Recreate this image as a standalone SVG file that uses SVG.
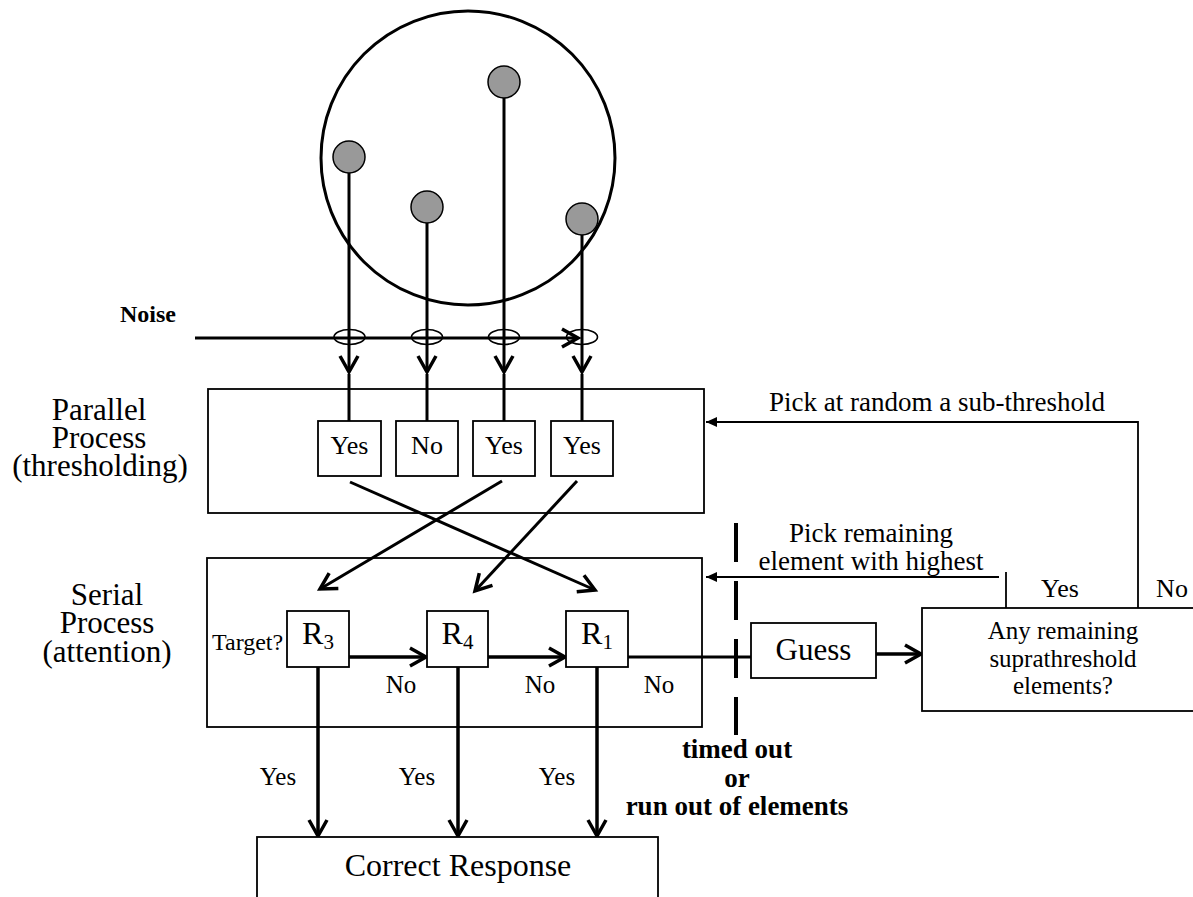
<svg xmlns="http://www.w3.org/2000/svg" width="1193" height="897" viewBox="0 0 1193 897">
<defs>
<style>
.t{font-family:"Liberation Serif","Times New Roman",serif;fill:#000}
.box{fill:#fff;stroke:#000;stroke-width:1.8}
.thin{stroke:#000;stroke-width:1.8;fill:none}
.thick{stroke:#000;stroke-width:3.5;fill:none}
.dot{fill:#999;stroke:#000;stroke-width:1.5}
.ell{fill:none;stroke:#000;stroke-width:1.6}
</style>
<marker id="v" markerUnits="userSpaceOnUse" viewBox="-20 -12 24 24" refX="0" refY="0" markerWidth="24" markerHeight="24" orient="auto">
<path d="M-16 -9 L0 0 L-16 9" fill="none" stroke="#000" stroke-width="3.5" stroke-linejoin="miter"/>
</marker>
<marker id="tri" markerUnits="userSpaceOnUse" viewBox="-12 -6 14 12" refX="0" refY="0" markerWidth="14" markerHeight="12" orient="auto">
<path d="M-11 -5 L0 0 L-11 5 Z" fill="#000"/>
</marker>
</defs>
<rect width="1193" height="897" fill="#fff"/>

<g id="display">
<circle cx="468" cy="158" r="147" fill="none" stroke="#000" stroke-width="3"/>
</g>

<g id="connectors">
<!-- stems from elements -->
<line class="thick" x1="349" y1="173" x2="349" y2="372" marker-end="url(#v)" style="stroke-width:3"/>
<line class="thick" x1="427" y1="222" x2="427" y2="372" marker-end="url(#v)" style="stroke-width:3"/>
<line class="thick" x1="504" y1="97" x2="504" y2="372" marker-end="url(#v)" style="stroke-width:3"/>
<line class="thick" x1="582" y1="235" x2="582" y2="372" marker-end="url(#v)" style="stroke-width:3"/>
<!-- noise -->
<line class="thick" x1="195" y1="338" x2="578" y2="338" marker-end="url(#v)" style="stroke-width:3"/>
<ellipse class="ell" cx="349.5" cy="337" rx="15.5" ry="7.5"/>
<ellipse class="ell" cx="427" cy="337" rx="15.5" ry="7.5"/>
<ellipse class="ell" cx="504" cy="337" rx="15.5" ry="7.5"/>
<ellipse class="ell" cx="582" cy="337" rx="15.5" ry="7.5"/>
<!-- into yes/no boxes -->
<line class="thick" x1="349" y1="374" x2="349" y2="421" style="stroke-width:3"/>
<line class="thick" x1="427" y1="374" x2="427" y2="421" style="stroke-width:3"/>
<line class="thick" x1="504" y1="374" x2="504" y2="421" style="stroke-width:3"/>
<line class="thick" x1="582" y1="374" x2="582" y2="421" style="stroke-width:3"/>
<!-- crossing lines -->
<line class="thick" x1="350" y1="482" x2="595" y2="590" marker-end="url(#v)" style="stroke-width:3"/>
<line class="thick" x1="502" y1="481" x2="320" y2="589" marker-end="url(#v)" style="stroke-width:3"/>
<line class="thick" x1="577" y1="481" x2="475" y2="591" marker-end="url(#v)" style="stroke-width:3"/>
<!-- serial chain -->
<line class="thick" x1="349" y1="657" x2="426" y2="657" marker-end="url(#v)"/>
<line class="thick" x1="488" y1="657" x2="565" y2="657" marker-end="url(#v)"/>
<line class="thick" x1="628" y1="657" x2="751" y2="657" style="stroke-width:3"/>
<!-- yes arrows to correct response -->
<line class="thick" x1="318" y1="667" x2="318" y2="836" marker-end="url(#v)"/>
<line class="thick" x1="458" y1="667" x2="458" y2="836" marker-end="url(#v)"/>
<line class="thick" x1="597" y1="667" x2="597" y2="836" marker-end="url(#v)"/>
<!-- guess to decision -->
<line class="thick" x1="876" y1="654" x2="921" y2="654" marker-end="url(#v)"/>
<!-- decision feedback -->
<line class="thin" x1="1006" y1="572" x2="1006" y2="608"/>
<line class="thin" x1="999" y1="577" x2="706" y2="577" marker-end="url(#tri)"/>
<polyline class="thin" points="1138,608 1138,422 706,422" marker-end="url(#tri)"/>
<!-- time-out dashed line -->
<line x1="736" y1="523" x2="736" y2="735" stroke="#000" stroke-width="4" stroke-dasharray="39 19"/>
</g>

<g id="elements">
<circle class="dot" cx="349" cy="157" r="16"/>
<circle class="dot" cx="427" cy="207" r="16"/>
<circle class="dot" cx="504" cy="82" r="16"/>
<circle class="dot" cx="582" cy="219" r="16"/>
</g>

<g id="noise-label">
<text class="t" x="148" y="322" font-size="24" font-weight="bold" text-anchor="middle">Noise</text>
</g>

<g id="parallel">
<rect class="box" x="208" y="389" width="496" height="124" style="fill:none"/>
<text class="t" font-size="31" text-anchor="middle"><tspan x="99" y="420">Parallel</tspan><tspan x="99" y="448">Process</tspan><tspan x="100" y="476">(thresholding)</tspan></text>
</g>

<g id="yes1"><rect class="box" x="318" y="421" width="63" height="55"/><text class="t" x="349.5" y="454" font-size="26" text-anchor="middle">Yes</text></g>
<g id="no2"><rect class="box" x="396" y="421" width="62" height="55"/><text class="t" x="427" y="454" font-size="26" text-anchor="middle">No</text></g>
<g id="yes3"><rect class="box" x="473" y="421" width="62" height="55"/><text class="t" x="504" y="454" font-size="26" text-anchor="middle">Yes</text></g>
<g id="yes4"><rect class="box" x="551" y="421" width="62" height="55"/><text class="t" x="582" y="454" font-size="26" text-anchor="middle">Yes</text></g>

<g id="serial">
<rect class="box" x="207" y="558" width="495" height="169" style="fill:none"/>
<text class="t" font-size="31" text-anchor="middle"><tspan x="107" y="605">Serial</tspan><tspan x="107" y="633">Process</tspan><tspan x="107" y="662">(attention)</tspan></text>
<text class="t" x="212" y="650" font-size="24">Target?</text>
</g>

<g id="R3"><rect class="box" x="287" y="611" width="62" height="56"/><text class="t" x="318" y="644" font-size="32" text-anchor="middle">R<tspan font-size="21" dy="5">3</tspan></text></g>
<g id="R4"><rect class="box" x="427" y="611" width="61" height="56"/><text class="t" x="457.5" y="644" font-size="32" text-anchor="middle">R<tspan font-size="21" dy="5">4</tspan></text></g>
<g id="R1"><rect class="box" x="566" y="611" width="62" height="56"/><text class="t" x="597" y="644" font-size="32" text-anchor="middle">R<tspan font-size="21" dy="5">1</tspan></text></g>

<g id="guess"><rect class="box" x="751" y="623" width="125" height="55"/><text class="t" x="813.5" y="660" font-size="31" text-anchor="middle">Guess</text></g>

<g id="decision">
<rect class="box" x="922" y="608" width="300" height="103"/>
<text class="t" font-size="25" text-anchor="middle"><tspan x="1063" y="639">Any remaining</tspan><tspan x="1063" y="667">suprathreshold</tspan><tspan x="1063" y="694">elements?</tspan></text>
</g>

<g id="correct"><rect class="box" x="257" y="837" width="401" height="100"/><text class="t" x="458" y="876" font-size="32" text-anchor="middle">Correct Response</text></g>

<g id="labels">
<text class="t" x="401" y="693" font-size="25" text-anchor="middle">No</text>
<text class="t" x="540" y="693" font-size="25" text-anchor="middle">No</text>
<text class="t" x="659" y="693" font-size="25" text-anchor="middle">No</text>
<text class="t" x="278" y="785" font-size="25" text-anchor="middle">Yes</text>
<text class="t" x="417" y="785" font-size="25" text-anchor="middle">Yes</text>
<text class="t" x="557" y="785" font-size="25" text-anchor="middle">Yes</text>
<text class="t" x="1060" y="597" font-size="26" text-anchor="middle">Yes</text>
<text class="t" x="1172" y="597" font-size="26" text-anchor="middle">No</text>
<text class="t" x="937" y="411" font-size="27" text-anchor="middle">Pick at random a sub-threshold</text>
<text class="t" font-size="27" text-anchor="middle"><tspan x="871" y="542">Pick remaining</tspan><tspan x="871" y="570">element with highest</tspan></text>
<text class="t" font-size="27" font-weight="bold" text-anchor="middle"><tspan x="737" y="758">timed out</tspan><tspan x="737" y="787">or</tspan><tspan x="737" y="815">run out of elements</tspan></text>
</g>
</svg>
